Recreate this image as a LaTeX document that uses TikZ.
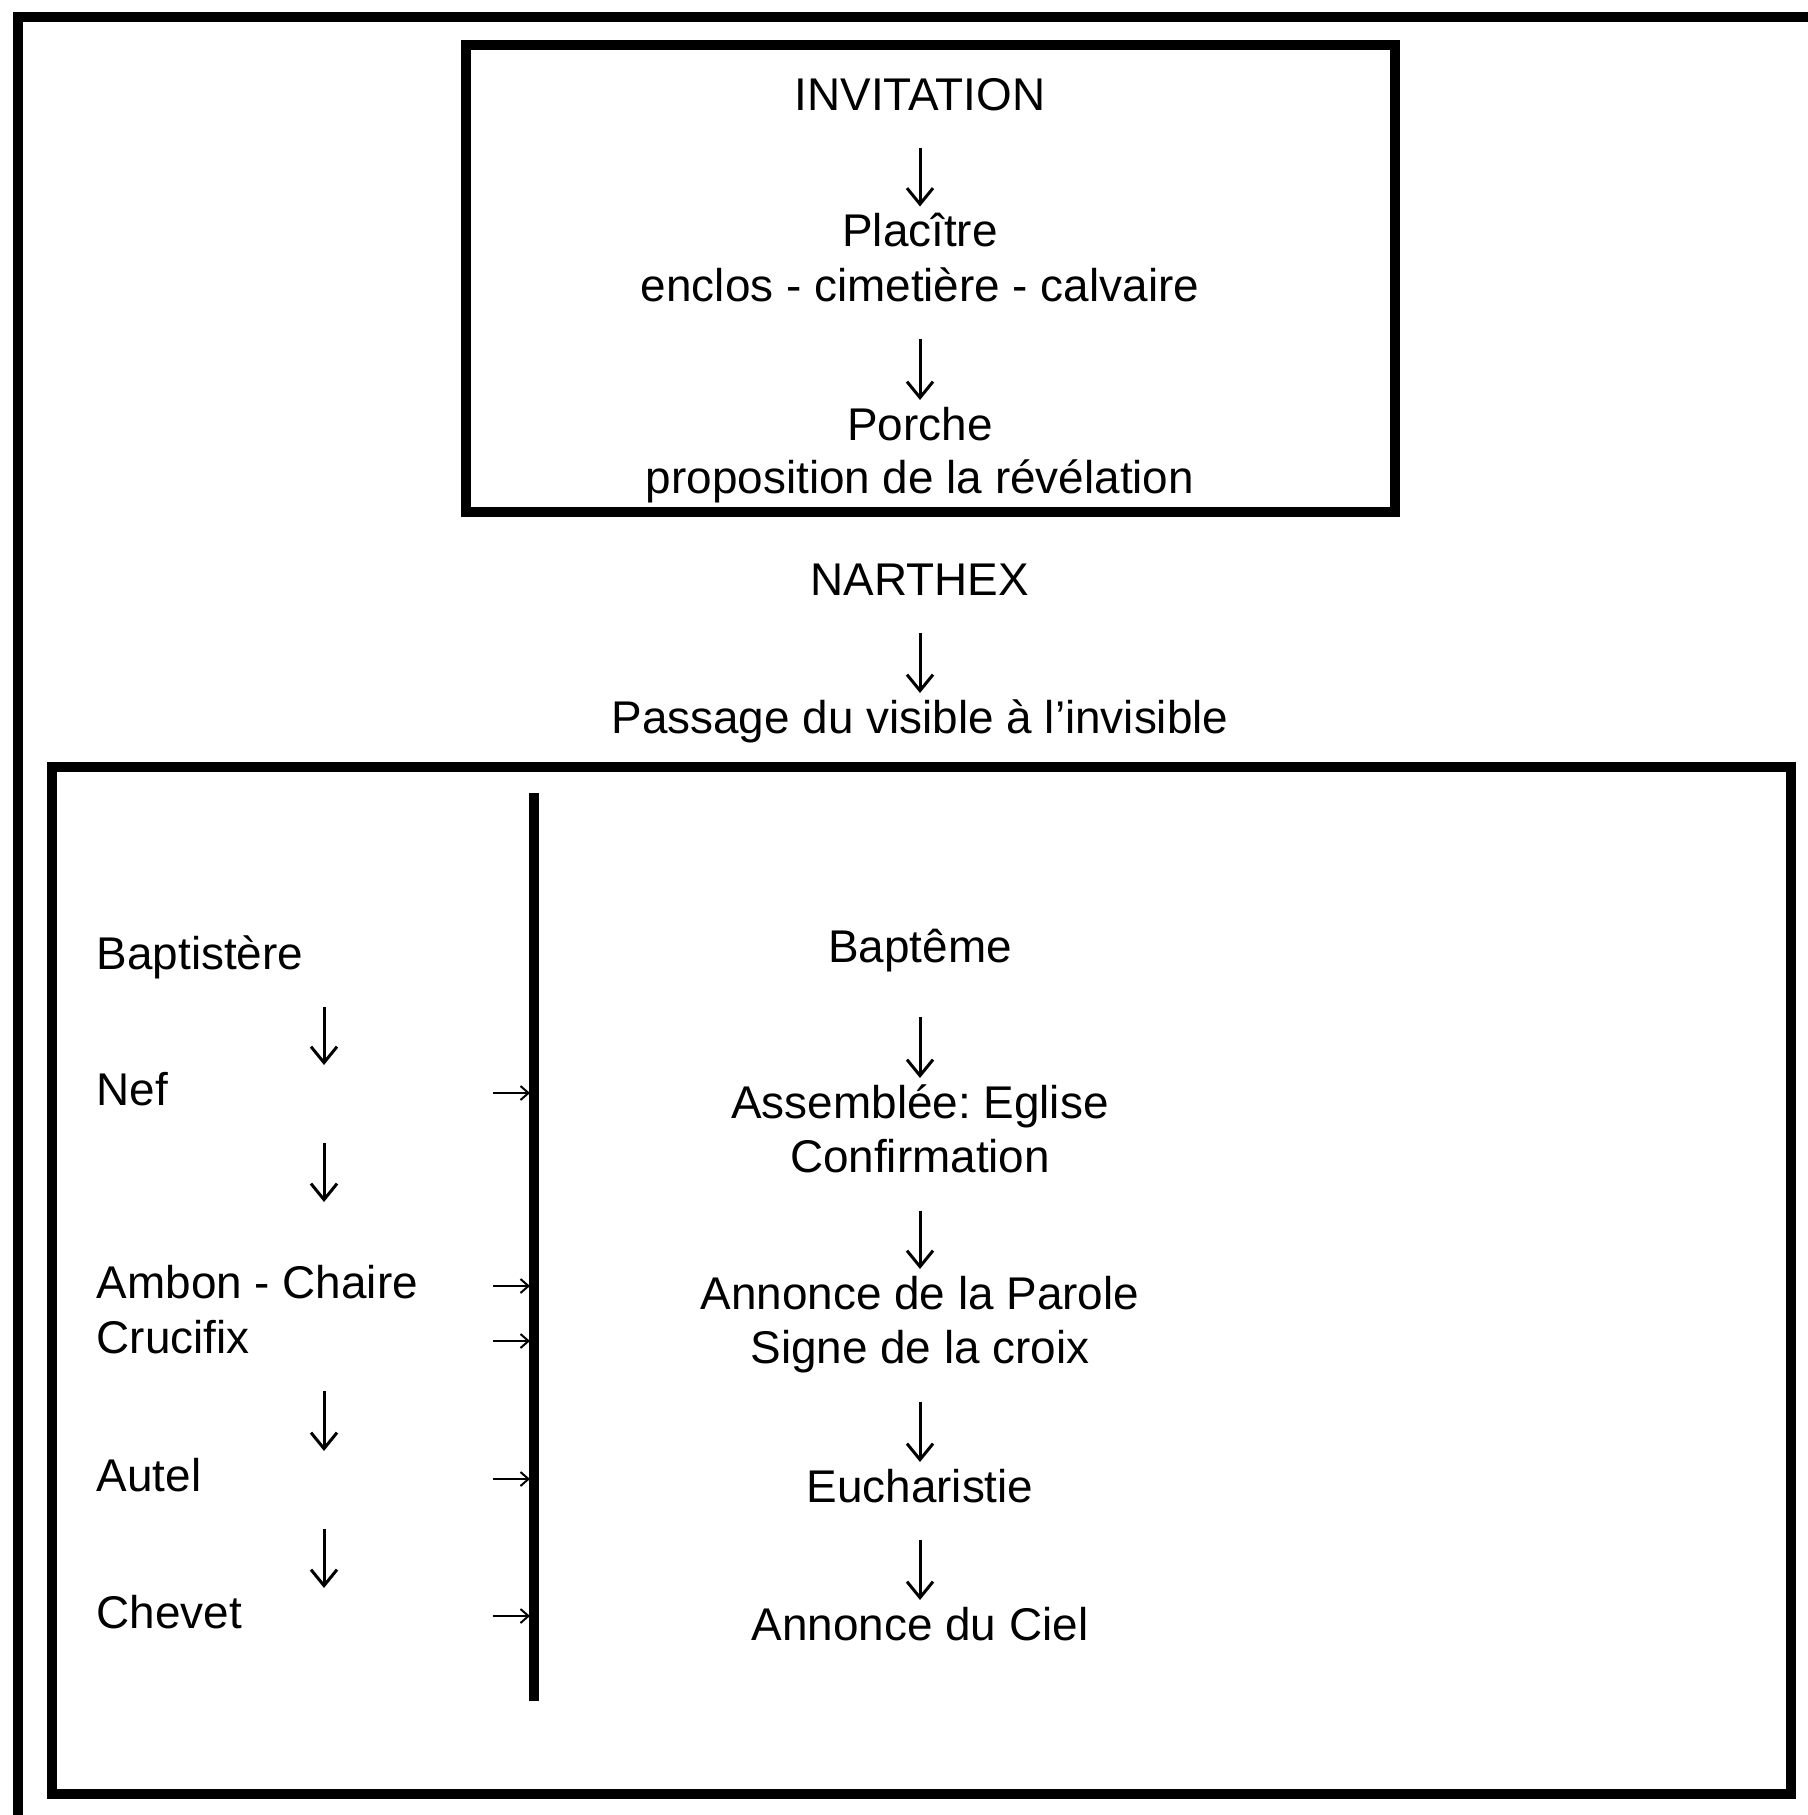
\documentclass[tikz,border=0pt]{standalone}
\usepackage{fontspec}
\setmainfont{Liberation Sans}
\usetikzlibrary{arrows.meta}
\frenchspacing

\tikzset{
	lbl/.style={font=\fontsize{13.05}{15.5}\selectfont, inner sep=0pt, anchor=base},
	side/.style={lbl, anchor=base west},
	frame/.style={line width=0.95mm},
	dn/.style={-{Straight Barb[length=1.6mm, width=2.6mm]}, line width=0.3mm,
		shorten <=0.38cm, shorten >=0.40cm},
	rt/.style={-{Straight Barb[length=0.8mm, width=1.4mm]}, line width=0.2mm, shorten >=0.4mm}
}

\begin{document}
\begin{tikzpicture}
		\useasboundingbox (0, 0) rectangle (18.08, -18.15);
		\draw [frame] (0.18, -18.15) -- (0.18, -0.17) -- (18.08, -0.17);
		\draw [frame] (4.66, -0.45) rectangle (13.95, -5.12);
		\draw [frame] (0.52, -7.67) rectangle (17.91, -17.94);

		\coordinate (wtop) at (5.34, -7.93);
		\coordinate (wbot) at (5.34, -17.01);
		\coordinate (colL) at (3.24, 0);
		\coordinate (tail) at (4.93, 0);
		\draw [frame] (wtop) -- (wbot);

		\node[lbl] (invit) at (9.20, -1.10) {INVITATION};
		\node[lbl] (plac) at (9.20, -2.465) {Placître};
		\node[lbl] (enclos) at (9.20, -3.01) {enclos - cimetière - calvaire};
		\node[lbl] (porche) at (9.20, -4.40) {Porche};
		\node[lbl] (propo) at (9.20, -4.93) {proposition de la révélation};
		\node[lbl] (narthex) at (9.20, -5.95) {NARTHEX};
		\node[lbl] (passage) at (9.20, -7.33) {Passage du visible à l’invisible};

		\node[lbl] (bapteme) at (9.20, -9.62) {Baptême};
		\node[lbl] (assemb) at (9.20, -11.18) {Assemblée: Eglise};
		\node[lbl] (confirm) at (9.20, -11.725) {Confirmation};
		\node[lbl] (parole) at (9.20, -13.09) {Annonce de la Parole};
		\node[lbl] (signe) at (9.20, -13.635) {Signe de la croix};
		\node[lbl] (euch) at (9.20, -15.02) {Eucharistie};
		\node[lbl] (ciel) at (9.20, -16.40) {Annonce du Ciel};

		\node[side] (baptis) at (0.96, -9.69) {Baptistère};
		\node[side] (nef) at (0.96, -11.05) {Nef};
		\node[side] (ambon) at (0.96, -12.98) {Ambon - Chaire};
		\node[side] (crucif) at (0.96, -13.53) {Crucifix};
		\node[side] (autel) at (0.96, -14.91) {Autel};
		\node[side] (chevet) at (0.96, -16.28) {Chevet};

		\draw [dn] (invit.base) -- (plac.base);
		\draw [dn] (enclos.base) -- (porche.base);
		\draw [dn] (narthex.base) -- (passage.base);
		\draw [dn, shorten <=0.55cm] (bapteme.base) -- (assemb.base);
		\draw [dn] (confirm.base) -- (parole.base);
		\draw [dn] (signe.base) -- (euch.base);
		\draw [dn] (euch.base) -- (ciel.base);

		\draw [dn] (baptis.base -| colL) -- (nef.base -| colL);
		\draw [dn, shorten >=0.96cm] (nef.base -| colL) -- (ambon.base -| colL);
		\draw [dn] (crucif.base -| colL) -- (autel.base -| colL);
		\draw [dn] (autel.base -| colL) -- (chevet.base -| colL);

		\foreach \n in {nef, ambon, crucif, autel, chevet}
			\draw [rt] ([yshift=1.2mm]\n.base -| tail) -- ([yshift=1.2mm]\n.base -| wtop);
	\end{tikzpicture}
\end{document}
